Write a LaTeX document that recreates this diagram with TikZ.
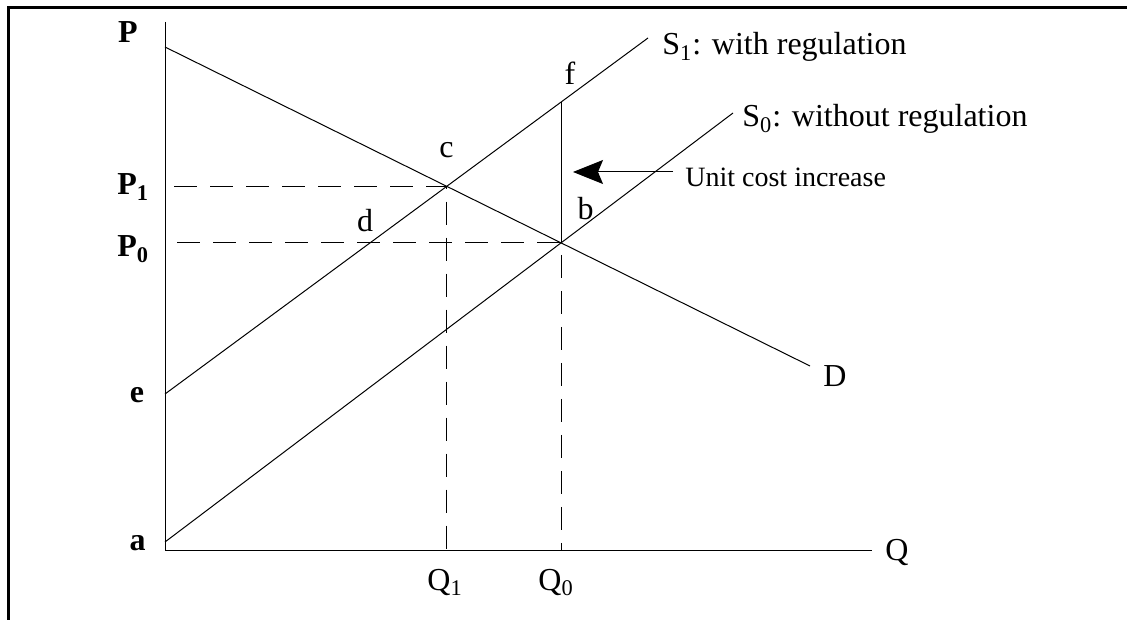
\documentclass[tikz,border=0pt]{standalone}
\usepackage{fontspec}
\setmainfont{Liberation Serif}
\usetikzlibrary{arrows.meta, intersections}

\begin{document}
\begin{tikzpicture}[x=0.5pt, y=0.5pt,
    curve/.style = {line width=0.5pt},
    guide/.style = {line width=0.5pt, dash pattern=on 11.5pt off 6.5pt},
    lbl/.style = {inner sep=0pt, anchor=base, font=\fontsize{16}{19}\selectfont},
    boldlbl/.style = {lbl, font=\fontsize{16}{19}\selectfont\bfseries},
    note/.style = {inner sep=0pt, anchor=base west, font=\fontsize{14}{17}\selectfont}]
    \useasboundingbox (-165,-70) rectangle (962,550);

    % frame
    \coordinate (TL) at (-156.5,542.5);
    \coordinate (TR) at (962,542.5);
    \coordinate (BL) at (-156.5,-70);
    \draw[line width=1.5pt] (TR) -- (TL) -- (BL);

    % axes
    \coordinate (O) at (0,0);
    \coordinate (Ptop) at (0,528);
    \coordinate (Qend) at (707,0);
    \draw[curve] (Ptop) -- (O) -- (Qend);

    % demand and supply
    \coordinate (Dstart) at (0,503);
    \coordinate (Dend) at (645,184);
    \coordinate (e) at (0,156);
    \coordinate (Sone) at (483,512);
    \coordinate (a) at (0,8);
    \coordinate (Szero) at (568,437);
    \draw[curve, name path=demand] (Dstart) -- (Dend);
    \draw[curve, name path=withreg] (e) -- (Sone);
    \draw[curve, name path=noreg] (a) -- (Szero);

    \path[name intersections={of=demand and withreg, by=c}];
    \path[name intersections={of=demand and noreg, by=b}];
    \path[name path=upline] (b) -- ++(0,300);
    \path[name intersections={of=upline and withreg, by=f}];

    % cost gap and equilibrium guides
    \draw[curve] (f) -- (b);
    \coordinate (Pone) at (9,0 |- c);
    \coordinate (Pzero) at (12,0 |- b);
    \draw[guide] (Pone) -- (c) -- (c |- O);
    \draw[guide] (Pzero) -- (b) -- (b |- O);

    % axis labels
    \node[boldlbl] (P) at (-37,507) {P};
    \node[boldlbl, anchor=base west] (P1) at (-48,355) {P\textsubscript{1}};
    \node[boldlbl, anchor=base west] (P0) at (-48,293) {P\textsubscript{0}};
    \node[boldlbl] (elab) at (-28,147) {e};
    \node[boldlbl] (alab) at (-27.5,0) {a};
    \node[lbl] (Q) at (732,-10) {Q};
    \node[lbl, anchor=base west] (Q1) at (262,-40) {Q\textsubscript{1}};
    \node[lbl, anchor=base west] (Q0) at (373,-40) {Q\textsubscript{0}};

    % point labels
    \node[lbl] (clab) at (281.5,392) {c};
    \node[lbl] (blab) at (420.5,330) {b};
    \node[lbl] (dlab) at (200,318) {d};
    \node[lbl] (flab) at (405,465) {f};
    \node[lbl, anchor=base west] (Dlab) at (658,163) {D};
    \node[lbl, anchor=base west] (S1lab) at (497,495) {S\textsubscript{1}: with regulation};
    \node[lbl, anchor=base west] (S0lab) at (577,423) {S\textsubscript{0}: without regulation};

    % unit cost arrow
    \node[note] (unit) at (520,363) {Unit cost increase};
    \coordinate (tip) at (408,378);
    \draw[curve, -{Stealth[length=15pt, width=12pt, inset=2.5pt]}] ([shift={(-12,15)}]unit.base west) -- (tip);
\end{tikzpicture}
\end{document}
